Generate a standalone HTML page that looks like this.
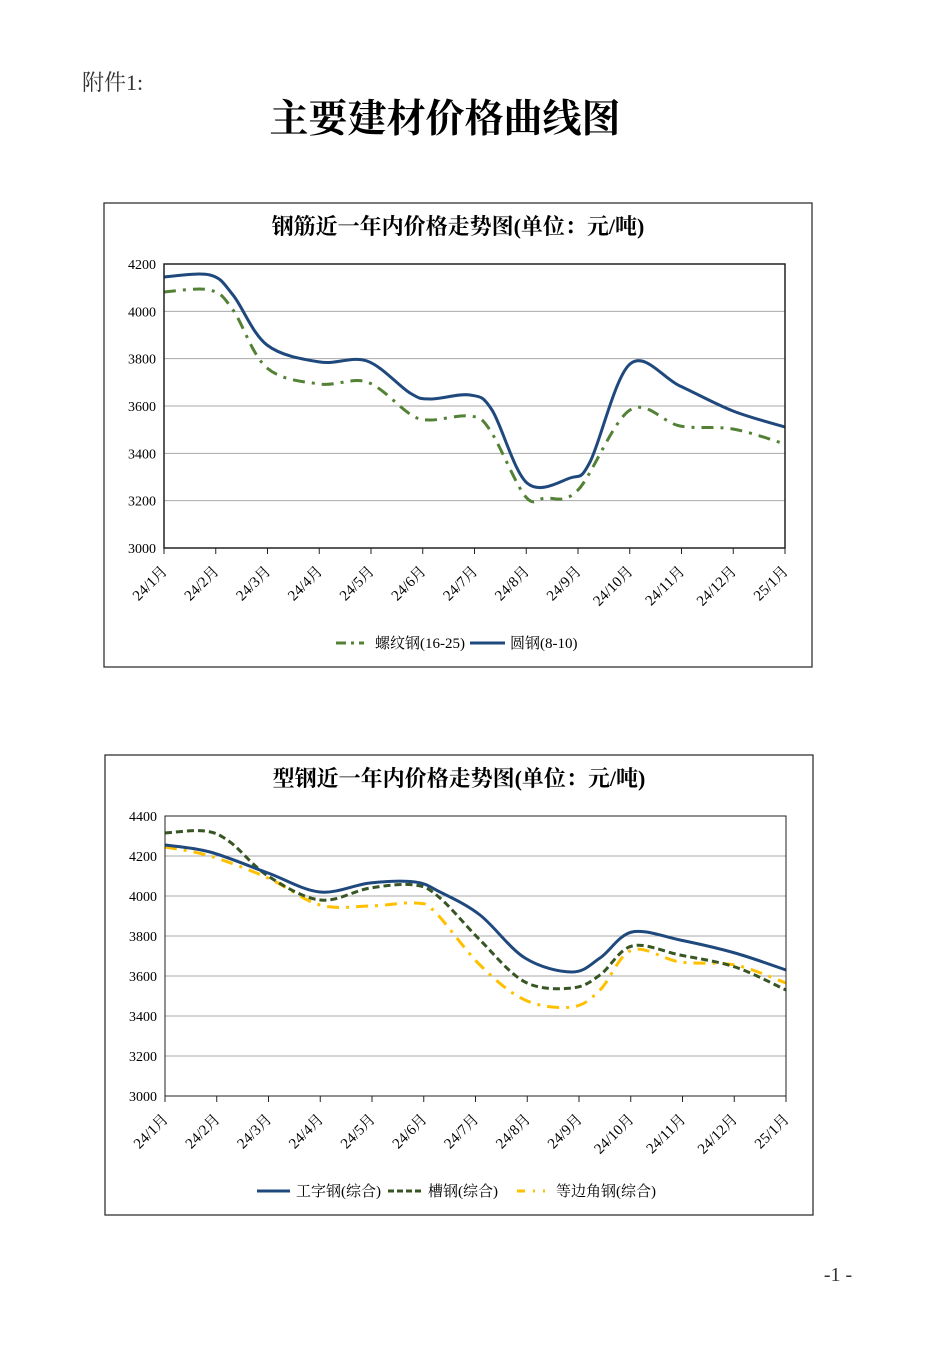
<!DOCTYPE html>
<html><head><meta charset="utf-8">
<style>
body{margin:0;background:#fff;}
svg{display:block;}
text{font-family:"Liberation Serif","Noto Serif CJK SC",serif;}
</style></head><body>
<svg id="s" width="950" height="1345" viewBox="0 0 950 1345" xmlns="http://www.w3.org/2000/svg">
<text x="82" y="90" font-size="22" fill="#333">附件1:</text>
<text x="445" y="132" font-size="39" font-weight="bold" text-anchor="middle" fill="#000">主要建材价格曲线图</text>
<text x="838" y="1281" font-size="20" text-anchor="middle" fill="#333">-1 -</text>

<rect x="104" y="203" width="708" height="464" fill="none" stroke="#333" stroke-width="1.3"/>
<text x="458" y="234" font-size="22" font-weight="bold" text-anchor="middle">钢筋近一年内价格走势图(单位：元/吨)</text>
<g id="g1"></g>
<rect x="164" y="264" width="621" height="284" fill="none" stroke="#222" stroke-width="1.5"/>

<rect x="105" y="755" width="708" height="460" fill="none" stroke="#333" stroke-width="1.3"/>
<text x="459" y="786" font-size="22" font-weight="bold" text-anchor="middle">型钢近一年内价格走势图(单位：元/吨)</text>
<g id="g2"></g>
<rect x="165" y="816" width="621" height="280" fill="none" stroke="#222" stroke-width="1"/>

<g font-size="15">
<line x1="336" y1="643" x2="364" y2="643" stroke="#538135" stroke-width="3" stroke-dasharray="10,5,3,5"/>
<text x="375" y="648">螺纹钢(16-25)</text>
<line x1="470" y1="643" x2="505" y2="643" stroke="#1f497d" stroke-width="3"/>
<text x="510" y="648">圆钢(8-10)</text>
<line x1="257" y1="1191" x2="290" y2="1191" stroke="#1f497d" stroke-width="3"/>
<text x="296" y="1196">工字钢(综合)</text>
<line x1="388" y1="1191" x2="422" y2="1191" stroke="#375623" stroke-width="3" stroke-dasharray="6,3"/>
<text x="428" y="1196">槽钢(综合)</text>
<line x1="517" y1="1191" x2="545" y2="1191" stroke="#ffc000" stroke-width="3" stroke-dasharray="8,8,2,8"/>
<text x="556" y="1196">等边角钢(综合)</text>
</g>
</svg>
<script>
const NS="http://www.w3.org/2000/svg";
function el(g,t,a,txt){const e=document.createElementNS(NS,t);for(const k in a)e.setAttribute(k,a[k]);if(txt)e.textContent=txt;g.appendChild(e);return e;}
function cr(p){let d="M"+p[0][0]+","+p[0][1];for(let i=0;i<p.length-1;i++){const p0=p[i-1]||p[i],p1=p[i],p2=p[i+1],p3=p[i+2]||p2;
d+=` C${p1[0]+(p2[0]-p0[0])/6},${p1[1]+(p2[1]-p0[1])/6} ${p2[0]-(p3[0]-p1[0])/6},${p2[1]-(p3[1]-p1[1])/6} ${p2[0]},${p2[1]}`;}return d;}
const labels=["24/1月","24/2月","24/3月","24/4月","24/5月","24/6月","24/7月","24/8月","24/9月","24/10月","24/11月","24/12月","25/1月"];
function axes(g,x0,x1,yt,yb,vals){const n=vals.length-1,h=(yb-yt)/n;
for(let i=0;i<=n;i++){const y=yt+i*h;if(i>0&&i<n)el(g,"line",{x1:x0,x2:x1,y1:y,y2:y,stroke:"#aaa","stroke-width":1});
el(g,"text",{x:x0-8,y:y+5,"font-size":14,"text-anchor":"end"},vals[i]);}
const w=(x1-x0)/12;for(let k=0;k<=12;k++){const x=x0+k*w;el(g,"line",{x1:x,x2:x,y1:yb,y2:yb+6,stroke:"#222"});
el(g,"text",{transform:`translate(${x+4},${yb+24}) rotate(-45)`,"font-size":15,"text-anchor":"end"},labels[k]);}}
const g1=document.getElementById("g1"),g2=document.getElementById("g2");
axes(g1,164,785,264,548,["4200","4000","3800","3600","3400","3200","3000"]);
axes(g2,165,786,816,1096,["4400","4200","4000","3800","3600","3400","3200","3000"]);
el(g1,"path",{d:cr([[164,292],[210,290],[233,310],[267,368],[320,384],[367,382],[410,414],[430,420],[470,416],[490,430],[525,496],[545,498],[578,490],[630,410],[680,426],[733,429],[785,444]]),fill:"none",stroke:"#538135","stroke-width":3,"stroke-dasharray":"12,7,3,7"});
el(g1,"path",{d:cr([[164,277],[210,275],[233,295],[267,345],[320,362],[367,361],[410,393],[430,399],[470,395],[492,410],[527,483],[570,478],[590,462],[630,364],[680,386],[733,411],[785,427]]),fill:"none",stroke:"#1f497d","stroke-width":3});
el(g2,"path",{d:cr([[165,847],[210,856],[268,878],[320,905],[370,906],[415,903],[435,912],[480,965],[525,1000],[572,1007],[600,990],[632,950],[680,962],[735,965],[786,983]]),fill:"none",stroke:"#ffc000","stroke-width":3,"stroke-dasharray":"12,7,3,7"});
el(g2,"path",{d:cr([[165,833],[205,831],[230,842],[268,876],[320,900],[370,888],[415,885],[440,898],[480,940],[525,982],[572,988],[600,975],[632,946],[680,955],[735,967],[786,990]]),fill:"none",stroke:"#375623","stroke-width":3,"stroke-dasharray":"7,4"});
el(g2,"path",{d:cr([[165,845],[210,852],[268,873],[320,892],[370,883],[415,882],[440,892],[480,915],[525,958],[572,972],[600,958],[632,932],[680,940],[735,953],[786,970]]),fill:"none",stroke:"#1f497d","stroke-width":3});
</script>
</body></html>
